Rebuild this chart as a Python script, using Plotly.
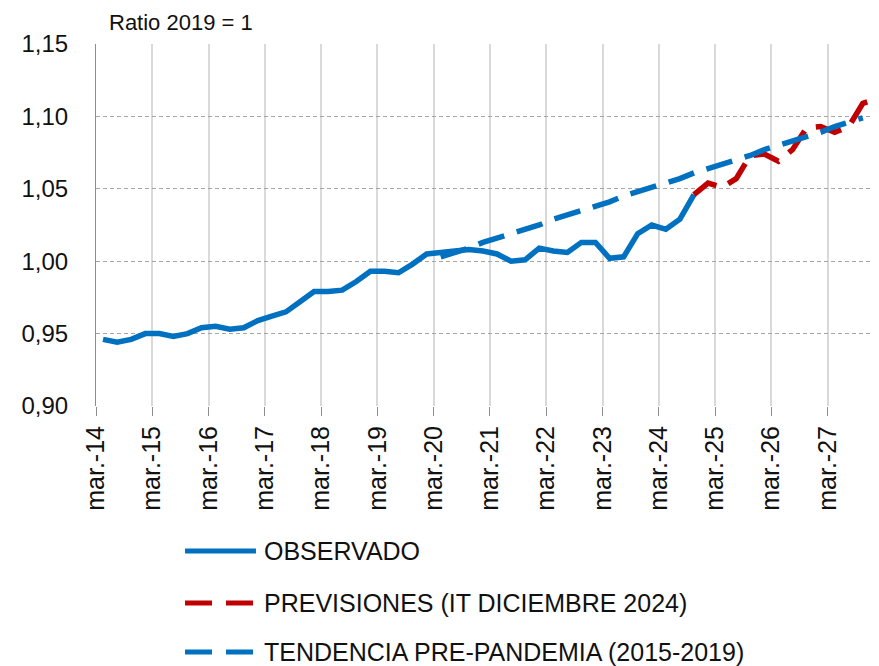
"""Ratio 2019 = 1: observado, previsiones (IT diciembre 2024) y tendencia pre-pandemia.
Datos trimestrales leidos del grafico original.
"""
import plotly.graph_objects as go

# trimestres 2014-T1 .. 2027-T4
years = list(range(2014, 2028))
quarters = [f"{y}-T{q}" for y in years for q in range(1, 5)]
tick_labels = [f"mar.-{str(y)[2:]}" for y in years]

# observado: 2014-T1 .. 2024-T3
observado = [
    0.946, 0.944, 0.946, 0.950, 0.950, 0.948, 0.950, 0.954,
    0.955, 0.953, 0.954, 0.959, 0.962, 0.965, 0.972, 0.979,
    0.979, 0.980, 0.986, 0.993, 0.993, 0.992, 0.998, 1.005,
    1.006, 1.007, 1.008, 1.007, 1.005, 1.000, 1.001, 1.009,
    1.007, 1.006, 1.013, 1.013, 1.002, 1.003, 1.019, 1.025,
    1.022, 1.029, 1.046,
]
# previsiones: 2024-T3 .. 2027-T4
previsiones = [
    1.046, 1.054, 1.051, 1.057, 1.073, 1.074, 1.069, 1.077,
    1.092, 1.093, 1.089, 1.093, 1.109, 1.112,
]
# tendencia pre-pandemia: 2020-T1 .. 2027-T3
tendencia = [
    1.003, 1.006, 1.009, 1.013, 1.016, 1.019, 1.022, 1.025,
    1.029, 1.032, 1.035, 1.038, 1.041, 1.045, 1.048, 1.051,
    1.054, 1.057, 1.061, 1.064, 1.067, 1.070, 1.073, 1.077,
    1.080, 1.083, 1.086, 1.089, 1.093, 1.096, 1.099,
]

names = ["OBSERVADO", "PREVISIONES (IT DICIEMBRE 2024)", "TENDENCIA PRE-PANDEMIA (2015-2019)"]
BLUE = "#0070C0"
RED = "#C00000"
FONT = "Liberation Sans, Arial, sans-serif"

# posicion de cada trimestre en el eje (centro del trimestre)
pos = {q: i + 0.5 for i, q in enumerate(quarters)}
start_prev = quarters.index("2024-T3")
start_tend = quarters.index("2020-T1")

x_obs = [pos[q] for q in quarters[:len(observado)]]
x_prev = [pos[q] for q in quarters[start_prev:start_prev + len(previsiones)]]
x_tend = [pos[q] for q in quarters[start_tend:start_tend + len(tendencia)]]

fig = go.Figure()
fig.add_trace(go.Scatter(x=x_obs, y=observado, mode="lines", name=names[0],
                         line=dict(color=BLUE, width=5.5)))
fig.add_trace(go.Scatter(x=x_prev, y=previsiones, mode="lines", name=names[1],
                         line=dict(color=RED, width=5.5, dash="27px,13px")))
fig.add_trace(go.Scatter(x=x_tend, y=tendencia, mode="lines", name=names[2],
                         line=dict(color=BLUE, width=5.5, dash="27px,13px")))

# la pagina html tiene 8px de margen en el body: se descuentan aqui
fig.update_layout(
    width=871, height=658,
    margin=dict(l=88, r=0, t=36, b=260),
    paper_bgcolor="white", plot_bgcolor="white",
    showlegend=False,
    separators=",.",
    font=dict(family=FONT, size=23, color="#111111"),
)
fig.update_xaxes(
    range=[0, 55.65],
    tickvals=[pos[f"{y}-T1"] - 0.5 for y in years],
    ticktext=tick_labels,
    tickangle=-90,
    tickfont=dict(size=25),
    ticks="outside", ticklen=9, tickcolor="#8c8c8c",
    showgrid=True, gridcolor="#d9d9d9", gridwidth=2,
    showline=False, zeroline=False,
    automargin=False,
)
fig.update_yaxes(
    range=[0.90, 1.15],
    dtick=0.05, tickformat=".2f",
    tickfont=dict(size=24),
    ticks="", ticklabelstandoff=22,
    showgrid=True, gridcolor="#a6a6a6", gridwidth=1, griddash="4px,3px",
    showline=True, linecolor="#8c8c8c", linewidth=1,
    zeroline=False,
    automargin=False,
)

fig.add_annotation(text="Ratio 2019 = 1", xref="paper", yref="paper",
                   x=0.015, y=1.0, yshift=8, xanchor="left", yanchor="bottom",
                   borderpad=0, showarrow=False, font=dict(size=22))

# leyenda a mano (lineas largas como en el original)
legend_rows = [-0.4006, -0.5442, -0.6796]
legend_styles = [(BLUE, "solid"), (RED, "27px,14px"), (BLUE, "27px,14px")]
for name, yrow, (color, dash) in zip(names, legend_rows, legend_styles):
    fig.add_shape(type="line", xref="paper", yref="paper",
                  x0=0.1137, x1=0.2043, y0=yrow, y1=yrow,
                  line=dict(color=color, width=5, dash=dash))
    fig.add_annotation(text=name, xref="paper", yref="paper",
                       x=0.2120, y=yrow, xanchor="left", yanchor="middle",
                       showarrow=False, font=dict(size=25))

fig.write_html("out.html")
